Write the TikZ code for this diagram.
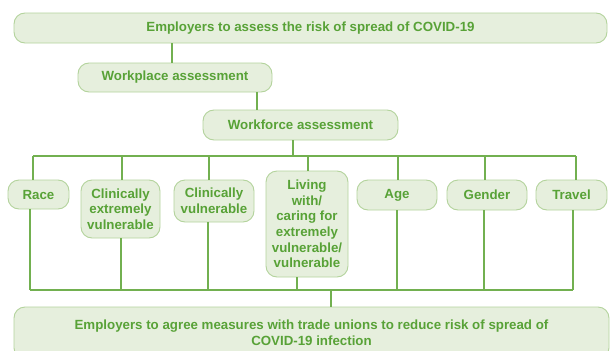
\documentclass[tikz,border=0pt]{standalone}
\usepackage{fontspec}
\setmainfont{Liberation Sans}
\definecolor{boxfill}{HTML}{E6EFDD}
\definecolor{boxline}{HTML}{B3D39C}
\definecolor{txtgreen}{HTML}{58A237}
\definecolor{wire}{HTML}{72B050}
\begin{document}
\begin{tikzpicture}[x=1pt,y=-1pt,
  box/.style={draw=boxline,fill=boxfill,line width=0.9pt,rounded corners=11pt,
    text=txtgreen,font=\fontsize{13.3}{15.6}\selectfont\bfseries,
    align=center,inner sep=0pt,anchor=center},
  link/.style={draw=wire,line width=1.2pt}]
\useasboundingbox (0,0) rectangle (611,351);
\clip (0,0) rectangle (611,351);

% top chain
\node[box,minimum width=593pt,minimum height=30pt] (top) at (310.5,28)
  {Employers to assess the risk of spread of COVID-19};
\node[box,minimum width=194pt,minimum height=29pt] (work) at (175,77.5)
  {Workplace assessment};
\node[box,minimum width=195pt,minimum height=30pt] (force) at (300.5,125)
  {Workforce assessment};

% factor boxes
\node[box,minimum width=61pt,minimum height=29pt] (race) at (38.5,194.5) {Race};
\node[box,minimum width=79pt,minimum height=58pt] (cev) at (120.5,209)
  {Clinically\\extremely\\vulnerable};
\node[box,minimum width=80pt,minimum height=42pt] (cv) at (214,201)
  {Clinically\\vulnerable};
\node[box,minimum width=82pt,minimum height=106pt] (liv) at (307,224)
  {Living\\with/\\caring for\\extremely\\vulnerable/\\vulnerable};
\node[box,minimum width=80pt,minimum height=30pt] (age) at (397,195) {Age};
\node[box,minimum width=80pt,minimum height=30pt] (gender) at (487,195) {Gender};
\node[box,minimum width=71pt,minimum height=30pt] (travel) at (571.5,195) {Travel};

% bottom box
\node[box,minimum width=595pt,minimum height=52pt] (bottom) at (311.5,333)
  {Employers to agree measures with trade unions to reduce risk of spread of\\COVID-19 infection};

% connector columns
\coordinate (a1) at (172,0);
\coordinate (a2) at (257,0);
\coordinate (a3) at (293,0);
\coordinate (a4) at (331,0);

\draw[link] (top.south -| a1) -- (work.north -| a1);
\draw[link] (work.south -| a2) -- (force.north -| a2);

% upper bus
\coordinate (u1) at (33,156);
\coordinate (u2) at (122,156);
\coordinate (u3) at (209,156);
\coordinate (u4) at (308,156);
\coordinate (u5) at (398,156);
\coordinate (u6) at (485,156);
\coordinate (u7) at (576,156);
\draw[link] (force.south -| a3) -- (u1 -| a3);
\draw[link] (u1) -- (u7);
\draw[link] (u1) -- (race.north -| u1);
\draw[link] (u2) -- (cev.north -| u2);
\draw[link] (u3) -- (cv.north -| u3);
\draw[link] (u4) -- (liv.north -| u4);
\draw[link] (u5) -- (age.north -| u5);
\draw[link] (u6) -- (gender.north -| u6);
\draw[link] (u7) -- (travel.north -| u7);

% lower bus
\coordinate (l1) at (30,290);
\coordinate (l2) at (121,290);
\coordinate (l3) at (208,290);
\coordinate (l4) at (297,290);
\coordinate (l5) at (397,290);
\coordinate (l6) at (484,290);
\coordinate (l7) at (573,290);
\draw[link] (race.south -| l1) -- (l1);
\draw[link] (cev.south -| l2) -- (l2);
\draw[link] (cv.south -| l3) -- (l3);
\draw[link] (liv.south -| l4) -- (l4);
\draw[link] (age.south -| l5) -- (l5);
\draw[link] (gender.south -| l6) -- (l6);
\draw[link] (travel.south -| l7) -- (l7);
\draw[link] (l1) -- (l7);
\draw[link] (l1 -| a4) -- (bottom.north -| a4);
\end{tikzpicture}
\end{document}
